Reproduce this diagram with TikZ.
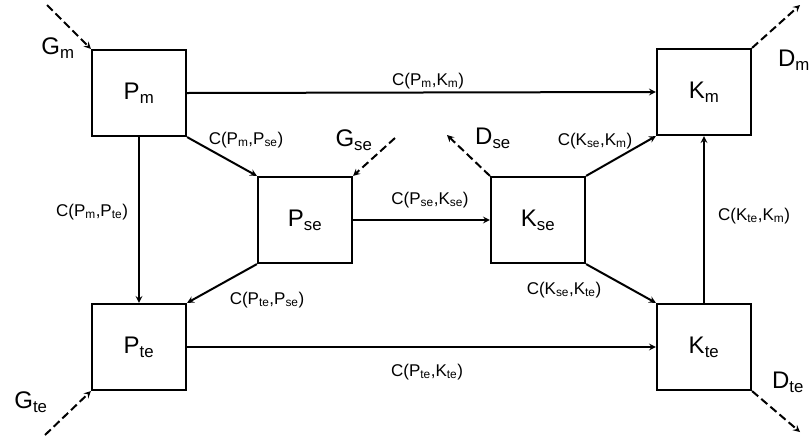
\documentclass[tikz,border=0pt]{standalone}
\usepackage{fontspec}
\setmainfont{Liberation Sans}
\usetikzlibrary{arrows.meta}

\begin{document}
\begin{tikzpicture}[
  x=1pt, y=-1pt,
  box/.style={rectangle, draw, line width=2.2pt, minimum width=94pt, minimum height=86pt, inner sep=0pt, font=\fontsize{24}{27}\selectfont},
  flow/.style={font=\fontsize{24}{27}\selectfont, inner sep=0pt},
  clab/.style={font=\fontsize{17}{19}\selectfont, inner sep=0pt},
  arr/.style={->, >=stealth, line width=2pt},
  darr/.style={->, >=stealth, line width=2pt, dash pattern=on 8pt off 4pt},
  scale=1.0
]
\useasboundingbox (0,0) rectangle (812,437);
% --- P side (left) ---
\node[box] (Pm) at (139,93) {P\textsubscript{m}};
\node[box] (Pse) at (305,220) {P\textsubscript{se}};
\node[box] (Pte) at (139,347) {P\textsubscript{te}};

% --- K side (right) ---
\node[box] (Km) at (704,92) {K\textsubscript{m}};
\node[box] (Kse) at (538,220) {K\textsubscript{se}};
\node[box] (Kte) at (704,347) {K\textsubscript{te}};

% --- couplings ---
\draw[arr] (Pm.east) -- (Km.west);
\draw[arr] (Pm.south east) -- (Pse.north west);
\draw[arr] (Pm.south) -- (Pte.north);
\draw[arr] (Pse.south west) -- (Pte.north east);
\draw[arr] (Pse.east) -- (Kse.west);
\draw[arr] (Kse.north east) -- (Km.south west);
\draw[arr] (Kse.south east) -- (Kte.north west);
\draw[arr] (Kte.north) -- (Km.south);
\draw[arr] (Pte.east) -- (Kte.west);

\node[clab] (cPmKm) at (428,81) {C(P\textsubscript{m},K\textsubscript{m})};
\node[clab] (cPmPse) at (246,140) {C(P\textsubscript{m},P\textsubscript{se})};
\node[clab] (cPmPte) at (92,212) {C(P\textsubscript{m},P\textsubscript{te})};
\node[clab] (cPtePse) at (267,300) {C(P\textsubscript{te},P\textsubscript{se})};
\node[clab] (cPseKse) at (430,200) {C(P\textsubscript{se},K\textsubscript{se})};
\node[clab] (cKseKm) at (595,141) {C(K\textsubscript{se},K\textsubscript{m})};
\node[clab] (cKseKte) at (564,290) {C(K\textsubscript{se},K\textsubscript{te})};
\node[clab] (cKteKm) at (754,216) {C(K\textsubscript{te},K\textsubscript{m})};
\node[clab] (cPteKte) at (427,372) {C(P\textsubscript{te},K\textsubscript{te})};

% --- sources and sinks ---
\coordinate (gm) at (47,5);
\coordinate (gse) at (395,138);
\coordinate (gte) at (45,435);
\coordinate (dm) at (800,5);
\coordinate (dse) at (447,135);
\coordinate (dte) at (800,432);
\draw[darr] (gm) -- (Pm.north west);
\draw[darr] (gse) -- (Pse.north east);
\draw[darr] (gte) -- (Pte.south west);
\draw[darr] (Km.north east) -- (dm);
\draw[darr] (Kse.north west) -- (dse);
\draw[darr] (Kte.south east) -- (dte);

\node[flow] (lgm) at (58,48) {G\textsubscript{m}};
\node[flow] (lgse) at (354,140) {G\textsubscript{se}};
\node[flow] (lgte) at (31,402) {G\textsubscript{te}};
\node[flow] (ldm) at (794,60) {D\textsubscript{m}};
\node[flow] (ldse) at (493,138) {D\textsubscript{se}};
\node[flow] (ldte) at (788,382) {D\textsubscript{te}};
\end{tikzpicture}
\end{document}
